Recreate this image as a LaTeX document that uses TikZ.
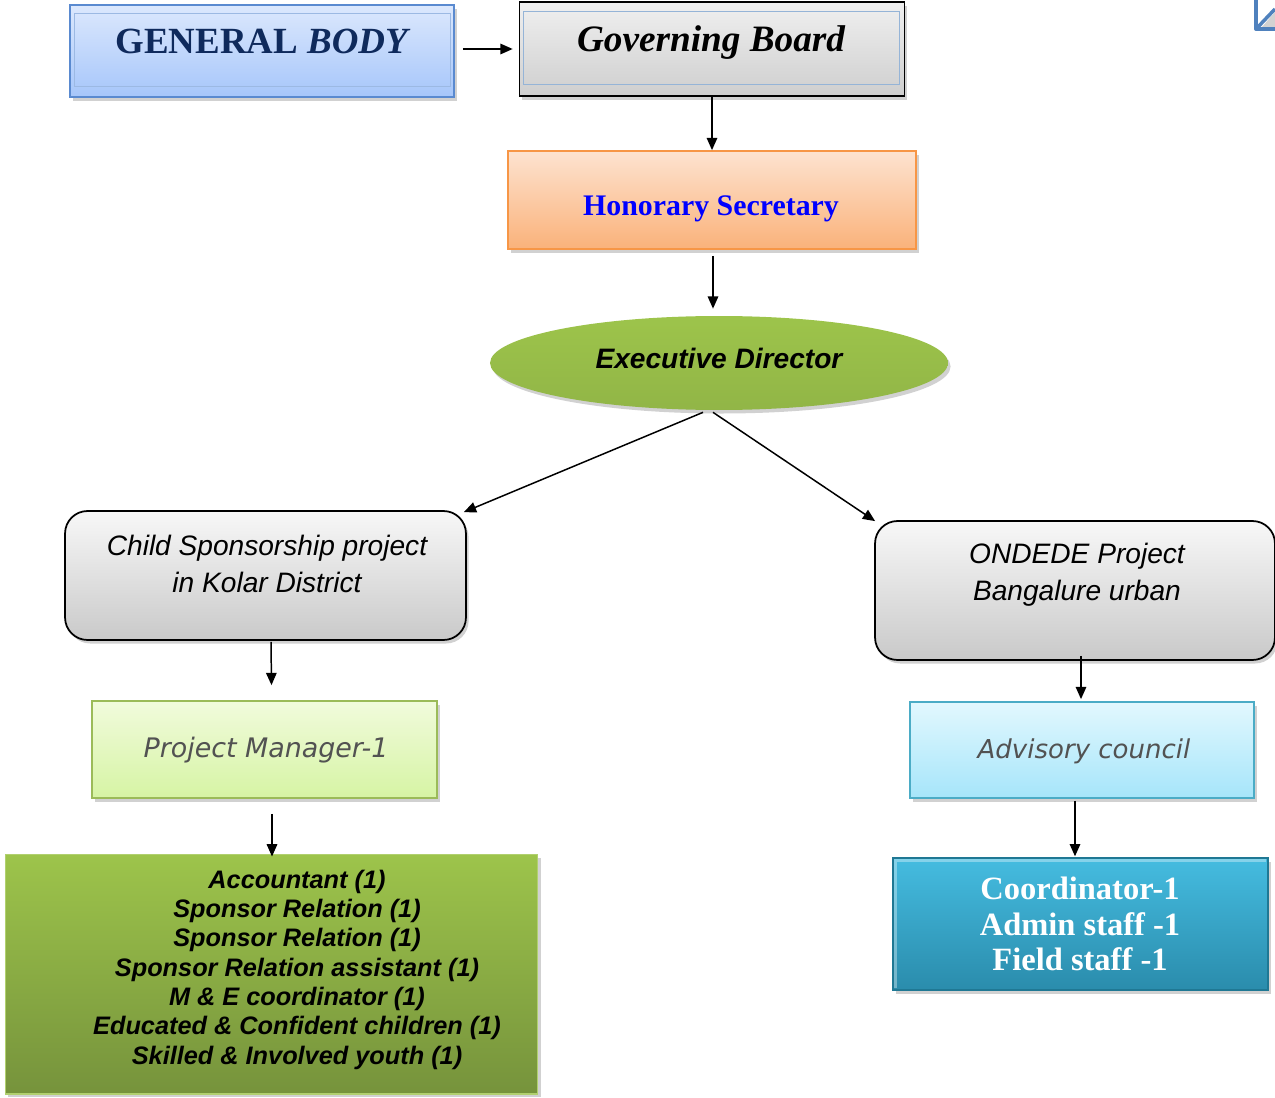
\documentclass[tikz,border=0pt]{standalone}
\usepackage{fontspec}
\setmainfont{Liberation Serif}
\setsansfont{Liberation Sans}
\newfontfamily\handfont{DejaVu Sans}
\usetikzlibrary{shapes.geometric,shadows,arrows.meta,calc}
\definecolor{navy}{HTML}{0F2A5C}
\definecolor{gbtop}{HTML}{DCE8FD}
\definecolor{gbbot}{HTML}{A6C6FA}
\definecolor{gbline}{HTML}{5A8AD0}
\definecolor{orline}{HTML}{F79646}
\definecolor{ortop}{HTML}{FDE3D0}
\definecolor{orbot}{HTML}{FAB27A}
\definecolor{grtop}{HTML}{9DC44B}
\definecolor{grbot}{HTML}{76933C}
\definecolor{pmline}{HTML}{9BBB59}
\definecolor{pmtop}{HTML}{F1FBDC}
\definecolor{pmbot}{HTML}{D6F4A4}
\definecolor{adline}{HTML}{4BACC6}
\definecolor{adtop}{HTML}{E2F8FE}
\definecolor{adbot}{HTML}{A6E5FA}
\definecolor{cotop}{HTML}{45BCE0}
\definecolor{cobot}{HTML}{2A8CAC}
\definecolor{coline}{HTML}{1F7894}
\definecolor{icon}{HTML}{4F81BD}
\tikzset{
  arr/.style={line width=0.85pt,-{Triangle[length=7pt,width=6pt]}},
  shad/.style={drop shadow={shadow xshift=1.5pt,shadow yshift=-2pt,opacity=0.3,fill=black!60}},
  gbbox/.style={rectangle,draw=gbline,line width=1pt,top color=gbtop,bottom color=gbbot,shad},
  govbox/.style={rectangle,draw=black,line width=1pt,top color=gray!12,bottom color=gray!38,shad},
  hsbox/.style={rectangle,draw=orline,line width=1pt,top color=ortop,bottom color=orbot,shad},
  edell/.style={ellipse,top color=grtop,bottom color=grtop!70!grbot,shad},
  projbox/.style={rectangle,rounded corners=0.45cm,draw=black,line width=1pt,top color=gray!6,bottom color=gray!42,shad},
  pmbox/.style={rectangle,draw=pmline,line width=1pt,top color=pmtop,bottom color=pmbot,shad},
  adbox/.style={rectangle,draw=adline,line width=1pt,top color=adtop,bottom color=adbot,shad},
  greenbox/.style={rectangle,draw=grtop!80!white,line width=0.6pt,top color=grtop,bottom color=grbot,shad},
  cobox/.style={rectangle,draw=coline,line width=0.8pt,top color=cotop,bottom color=cobot,shad},
  txt/.style={inner sep=0pt,align=center}
}
\begin{document}
\begin{tikzpicture}[x=0.02cm,y=-0.02cm]
\useasboundingbox (0,0) rectangle (1275,1098);
% corner icon fragment
\fill[gray!35] (1262,27) -- (1275,27) -- (1275,12) -- cycle;
\draw[icon,line width=2.2pt,line join=round] (1256,0) -- (1256,29) -- (1275,29);
\draw[icon,line width=2pt] (1257,28) -- (1275,9);

% boxes
\node[gbbox,minimum width=7.68cm,minimum height=1.84cm] (gb) at (262,51) {};
\draw[gbline!60!white,line width=0.5pt] ($(gb.north west)+(5,9)$) rectangle ($(gb.south east)+(-4,-11)$);
\node[txt,text=navy,font=\fontsize{21}{24}\selectfont\bfseries] (gbt) at (263,41) {GENERAL \textit{BODY}};

\node[govbox,minimum width=7.70cm,minimum height=1.88cm] (gov) at (712,49) {};
\draw[icon!60!white,line width=0.5pt] ($(gov.north west)+(5,10)$) rectangle ($(gov.south east)+(-6,-12)$);
\node[txt,font=\fontsize{21.2}{24}\selectfont\bfseries\itshape] (govt) at (711,43) {Governing Board};

\node[hsbox,minimum width=8.16cm,minimum height=1.96cm] (hs) at (712,200) {};
\node[txt,text=blue,font=\fontsize{17}{20}\selectfont\bfseries] (hst) at (711,209) {Honorary Secretary};

\node[edell,minimum width=9.16cm,minimum height=1.88cm] (ed) at (719,363) {};
\node[txt,font=\fontsize{16}{19}\selectfont\sffamily\bfseries\itshape] (edt) at (719,358) {Executive Director};

\node[projbox,minimum width=8.02cm,minimum height=2.58cm] (cs) at (265.5,575.5) {};
\node[txt,font=\fontsize{16}{21}\selectfont\sffamily\itshape] (cst) at (267,564) {Child Sponsorship project\\in Kolar District};

\node[projbox,minimum width=8.0cm,minimum height=2.78cm] (on) at (1075,590.5) {};
\node[txt,font=\fontsize{16}{21}\selectfont\sffamily\itshape] (ont) at (1077,575) {ONDEDE Project\\Bangalure urban};

\node[pmbox,minimum width=6.9cm,minimum height=1.94cm] (pm) at (264.5,749.5) {};
\node[txt,text=black!68,font=\fontsize{15.3}{18}\selectfont\handfont\itshape] (pmt) at (266,750) {Project Manager-1};

\node[adbox,minimum width=6.88cm,minimum height=1.92cm] (ad) at (1082,750) {};
\node[txt,text=black!68,font=\fontsize{14.8}{18}\selectfont\handfont\itshape] (adt) at (1084,751) {Advisory council};

\node[greenbox,minimum width=10.66cm,minimum height=4.8cm] (gr) at (271.5,974) {};
\node[txt,font=\fontsize{14.4}{16.7}\selectfont\sffamily\bfseries\itshape] (grt) at (297,969.5) {Accountant (1)\\Sponsor Relation (1)\\Sponsor Relation (1)\\Sponsor Relation assistant (1)\\M \& E coordinator (1)\\Educated \& Confident children (1)\\Skilled \& Involved youth (1)};

\node[cobox,minimum width=7.5cm,minimum height=2.64cm] (co) at (1080.5,924) {};
\draw[white,opacity=0.35,line width=1.5pt] ($(co.south west)+(3,-3)$) -- ($(co.north west)+(3,3)$) -- ($(co.north east)+(-3,3)$);
\node[txt,text=white,font=\fontsize{18.5}{20.4}\selectfont\bfseries] (cot) at (1080,924) {Coordinator-1\\Admin staff -1\\Field staff -1};

% connectors
\draw[arr] ($(gb.east)+(8,-2)$) -- ($(gov.west)+(-6,0)$);
\draw[arr] (gov.south) -- (hs.north);
\draw[arr] ($(hs.south)+(1,6)$) -- ($(ed.north)+(-6,-7)$);
\draw[arr] ($(ed.south)+(-16,2)$) -- ($(cs.north east)+(-3,2)$);
\draw[arr] ($(ed.south)+(-6,2)$) -- ($(on.north west)+(1,1)$);
\draw[arr] ($(cs.south)+(5.5,1)$) -- ($(pm.north)+(7,-15)$);
\draw[arr] ($(pm.south)+(7.5,15)$) -- ($(gr.north)+(0.5,3)$);
\draw[arr] ($(on.south)+(6,-5)$) -- ($(ad.north)+(-1,-2)$);
\draw[arr] ($(ad.south)+(-7,2)$) -- ($(co.north)+(-5.5,-1)$);
\end{tikzpicture}
\end{document}
